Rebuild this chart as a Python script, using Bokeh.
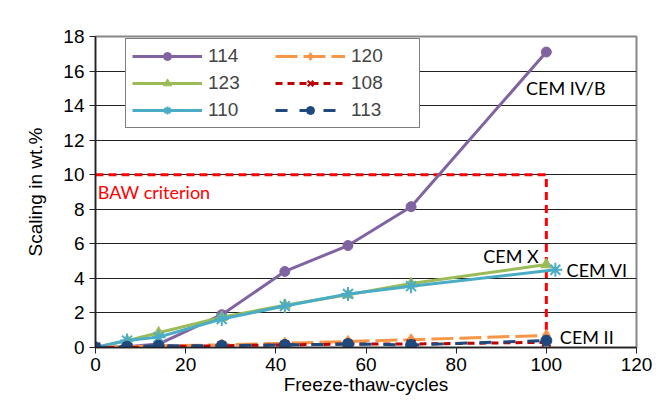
from bokeh.plotting import figure
from bokeh.models import Range1d, FixedTicker, Legend, LegendItem, Label
from bokeh.embed import file_html
from bokeh.resources import INLINE

cycles = [0, 7, 14, 28, 42, 56, 70, 100]
cycles_110 = [0, 7, 14, 28, 42, 56, 70, 102]
s114 = [0, 0.05, 0.2, 1.9, 4.4, 5.9, 8.15, 17.1]
s123 = [0, 0.4, 0.85, 1.75, 2.45, 3.05, 3.7, 4.8]
s110 = [0, 0.4, 0.6, 1.65, 2.4, 3.1, 3.55, 4.5]
s120 = [0, 0.05, 0.1, 0.15, 0.25, 0.35, 0.45, 0.7]
s108 = [0, 0.0, 0.05, 0.1, 0.15, 0.2, 0.2, 0.3]
s113 = [0, 0.05, 0.1, 0.1, 0.15, 0.2, 0.15, 0.4]
baw_x = [0, 100, 100]
baw_y = [10, 10, 0]
x_ticks = [0, 20, 40, 60, 80, 100, 120]
y_ticks = [0, 2, 4, 6, 8, 10, 12, 14, 16, 18]

p = figure(width=655, height=397, output_backend="svg", toolbar_location=None,
           x_range=Range1d(0, 120), y_range=Range1d(0, 18),
           min_border_left=95, min_border_right=19, min_border_top=36, min_border_bottom=49)

p.xgrid.visible = False
p.ygrid.ticker = FixedTicker(ticks=y_ticks)
p.ygrid.grid_line_color = "#222222"
p.ygrid.grid_line_width = 1
p.outline_line_color = "#888888"
p.outline_line_width = 2

for ax in (p.xaxis, p.yaxis):
    ax.axis_line_color = "#222222"
    ax.axis_line_width = 1.5
    ax.major_tick_line_color = "#222222"
    ax.major_tick_in = 0
    ax.major_tick_out = 6
    ax.minor_tick_line_color = None
    ax.major_label_text_font = "Liberation Sans"
    ax.major_label_text_font_size = "19px"
    ax.major_label_text_color = "black"
    ax.axis_label_text_font = "Liberation Sans"
    ax.axis_label_text_font_size = "19px"
    ax.axis_label_text_font_style = "normal"
    ax.axis_label_text_color = "black"
p.xaxis.ticker = FixedTicker(ticks=x_ticks)
p.yaxis.ticker = FixedTicker(ticks=y_ticks)
p.xaxis.axis_label = "Freeze-thaw-cycles"
p.yaxis.axis_label = "Scaling in wt.%"
p.xaxis.axis_label_standoff = 0
p.yaxis.axis_label_standoff = 14
p.xaxis.major_label_standoff = 4

# BAW criterion
p.line(baw_x, baw_y, line_color="#FF0000", line_width=3, line_dash="8 5")

def series(x, y, color, marker, dash, label, size):
    l = p.line(x, y, line_color=color, line_width=3, line_dash=dash)
    if marker in ("asterisk", "x"):
        m = p.scatter(x, y, marker=marker, size=size, line_color=color, line_width=2)
    else:
        m = p.scatter(x, y, marker=marker, size=size, fill_color=color, line_color=color)
    return LegendItem(label=label, renderers=[l, m])

i114 = series(cycles, s114, "#8064A2", "circle", "solid", "114", 10)
i123 = series(cycles, s123, "#9BBB59", "triangle", "solid", "123", 11)
i110 = series(cycles_110, s110, "#4BACC6", "asterisk", "solid", "110", 14)
i120 = series(cycles, s120, "#F79646", "diamond", "22 6", "120", 12)
i108 = series(cycles, s108, "#C00000", "x", "7 5", "108", 12)
i113 = series(cycles, s113, "#1F497D", "circle", "12 12", "113", 11)

legend = Legend(items=[i114, i123, i110, i120, i108, i113], ncols=2,
                location=(30, 219), glyph_width=70, glyph_height=20, label_height=20,
                label_width=62,
                label_text_font="Liberation Sans", label_text_font_size="19px",
                label_standoff=6, spacing=5, padding=6, margin=0,
                border_line_color="black", border_line_width=1,
                background_fill_alpha=1)
p.add_layout(legend, "center")

def lab(x, y, t, color="black"):
    p.add_layout(Label(x=x, y=y, text=t, text_font="Lato", text_font_size="18px",
                       text_color=color, text_baseline="middle"))

lab(0.5, 9.0, "BAW criterion", "#FF0000")
lab(95.5, 15.0, "CEM IV/B")
lab(86.0, 5.3, "CEM X")
lab(104.5, 4.5, "CEM VI")
lab(103.0, 0.6, "CEM II")

open("out.html", "w").write(file_html(p, INLINE))
